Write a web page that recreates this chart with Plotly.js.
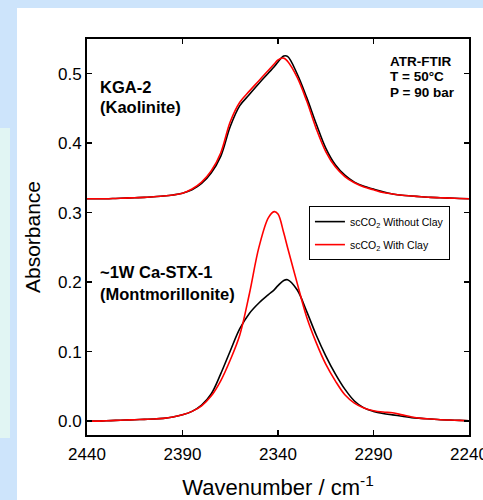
<!DOCTYPE html>
<html>
<head>
<meta charset="utf-8">
<script src="https://cdn.plot.ly/plotly-3.0.1.min.js"></script>
<style>
  html, body { margin: 0; padding: 0; width: 483px; height: 500px; overflow: hidden; background: #cde4fb; }
  #strip { position: absolute; left: 0; top: 128px; width: 10px; height: 310px; background: #e1f5f3; }
  #panel { position: absolute; left: 17px; top: 8px; width: 466px; height: 492px; background: #ffffff; }
  #chart { position: absolute; left: 0; top: 0; width: 483px; height: 500px; }
</style>
</head>
<body>
<div id="strip"></div>
<div id="panel"></div>
<div id="chart"></div>
<script>
// Wavenumber grid (cm-1)
const wavenumber = [2440,2435,2430,2425,2420,2415,2410,2405,2400,2395,2390,2385,2380,2375,2370,2365,2360,2355,2350,2345,2342,2340,2337,2335,2330,2325,2320,2315,2310,2305,2300,2295,2290,2285,2280,2275,2270,2265,2260,2255,2250,2245,2240];

// KGA-2 (Kaolinite), offset spectra
const kaoWithoutClay = [0.320,0.320,0.320,0.3205,0.321,0.3215,0.322,0.323,0.324,0.3255,0.328,0.333,0.342,0.357,0.381,0.424,0.454,0.470,0.486,0.501,0.510,0.517,0.5255,0.525,0.500,0.466,0.428,0.393,0.369,0.354,0.344,0.338,0.334,0.330,0.327,0.325,0.324,0.323,0.322,0.3215,0.321,0.3205,0.320];
const kaoWithClay    = [0.320,0.320,0.320,0.3205,0.321,0.3215,0.322,0.323,0.324,0.3255,0.328,0.334,0.344,0.360,0.386,0.431,0.459,0.475,0.490,0.505,0.514,0.520,0.5225,0.518,0.495,0.461,0.421,0.388,0.366,0.352,0.343,0.337,0.333,0.329,0.327,0.325,0.324,0.323,0.322,0.3215,0.321,0.3205,0.320];

// ~1W Ca-STX-1 (Montmorillonite)
const montWithoutClay = [0.000,0.000,0.0005,0.001,0.0015,0.002,0.0025,0.003,0.004,0.006,0.009,0.014,0.023,0.039,0.068,0.101,0.133,0.155,0.170,0.182,0.189,0.195,0.2025,0.2035,0.189,0.158,0.124,0.094,0.068,0.046,0.029,0.019,0.014,0.011,0.009,0.007,0.005,0.004,0.003,0.002,0.0015,0.001,0.0005];
const montWithClay    = [0.000,0.000,0.0005,0.001,0.0015,0.002,0.0025,0.003,0.004,0.006,0.009,0.014,0.022,0.036,0.058,0.088,0.124,0.183,0.250,0.293,0.3015,0.298,0.271,0.250,0.199,0.150,0.113,0.082,0.058,0.038,0.026,0.019,0.015,0.013,0.012,0.009,0.006,0.004,0.003,0.002,0.0015,0.001,0.0005];

const xTicks = [2440,2390,2340,2290,2240];
const yTicks = [0.0,0.1,0.2,0.3,0.4,0.5];
const legendNames = ['scCO<sub>2</sub> Without Clay','scCO<sub>2</sub> With Clay'];

const FONT = 'Liberation Sans, Arial, sans-serif';
const BLACK = '#000000', RED = '#ff0000';

const traces = [
  {x: wavenumber, y: kaoWithoutClay, mode:'lines', line:{color:BLACK,width:1.6,shape:'spline',smoothing:1}, name: legendNames[0], showlegend:true, legendgroup:'a'},
  {x: wavenumber, y: montWithoutClay, mode:'lines', line:{color:BLACK,width:1.6,shape:'spline',smoothing:1}, name: legendNames[0], showlegend:false, legendgroup:'a'},
  {x: wavenumber, y: kaoWithClay, mode:'lines', line:{color:RED,width:1.6,shape:'spline',smoothing:1}, name: legendNames[1], showlegend:true, legendgroup:'b'},
  {x: wavenumber, y: montWithClay, mode:'lines', line:{color:RED,width:1.6,shape:'spline',smoothing:1}, name: legendNames[1], showlegend:false, legendgroup:'b'}
];

const ann = (x, y, text, size) => ({x, y, xref:'x', yref:'y', text, showarrow:false, xanchor:'left', yanchor:'middle', font:{family:FONT, size, color:BLACK}});

const layout = {
  width: 483, height: 500,
  margin: {l: 87, r: 14, t: 39, b: 65},
  paper_bgcolor: 'rgba(0,0,0,0)',
  plot_bgcolor: 'rgba(0,0,0,0)',
  font: {family: FONT, color: BLACK},
  showlegend: true,
  legend: {x: 0.581, y: 0.578, xanchor:'left', yanchor:'top', bgcolor:'#ffffff', bordercolor:'#000000', borderwidth:1,
           font:{family:FONT, size:10.5, color:BLACK}, tracegroupgap: 4},
  xaxis: {
    range: [2440, 2240], tickvals: xTicks, ticktext: xTicks.map(String),
    ticks: 'inside', ticklen: 5, tickwidth: 1.5, tickcolor: BLACK,
    showline: true, linewidth: 2, linecolor: BLACK, mirror: 'ticks',
    showgrid: false, zeroline: false, ticklabeloverflow: 'allow', ticklabelstandoff: 3,
    tickfont: {family: FONT, size: 17, color: BLACK},
    title: {text: 'Wavenumber / cm<sup>-1</sup>', font: {family: FONT, size: 22, color: BLACK}, standoff: 17}
  },
  yaxis: {
    range: [-0.02, 0.55], tickvals: yTicks, ticktext: yTicks.map(v => v.toFixed(1)),
    ticks: 'inside', ticklen: 5, tickwidth: 1.5, tickcolor: BLACK,
    showline: true, linewidth: 2, linecolor: BLACK, mirror: 'ticks',
    showgrid: false, zeroline: false,
    tickfont: {family: FONT, size: 17, color: BLACK},
    title: {text: 'Absorbance', font: {family: FONT, size: 21, color: BLACK}, standoff: 12}
  },
  annotations: [
    ann(2434.2, 0.4806, '<b>KGA-2</b>', 16.5),
    ann(2434.2, 0.4527, '<b>(Kaolinite)</b>', 16.5),
    ann(2282.4, 0.518, '<b>ATR-FTIR</b>', 13.5),
    ann(2282.4, 0.4961, '<b>T = 50°C</b>', 13.5),
    ann(2282.4, 0.4733, '<b>P = 90 bar</b>', 13.5),
    ann(2434.2, 0.214, '<b>~1W Ca-STX-1</b>', 16.5),
    ann(2434.2, 0.183, '<b>(Montmorillonite)</b>', 16.5)
  ]
};

Plotly.newPlot('chart', traces, layout, {displayModeBar: false, staticPlot: true});
</script>
</body>
</html>
